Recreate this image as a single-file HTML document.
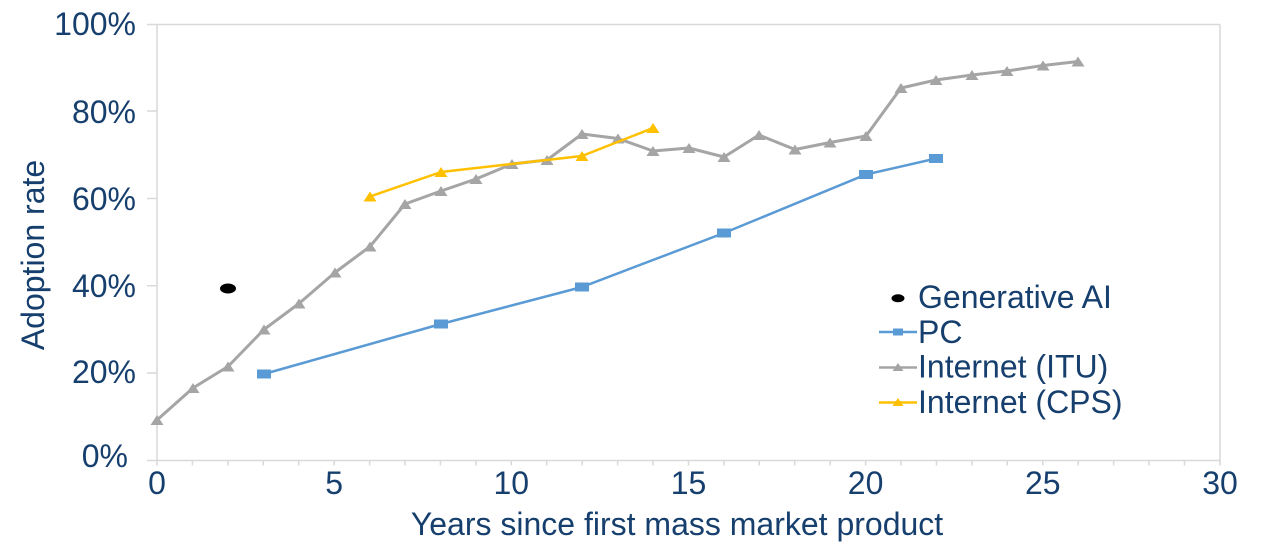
<!DOCTYPE html>
<html>
<head>
<meta charset="utf-8">
<style>
  html,body{margin:0;padding:0;background:#fff;}
  svg{display:block;}
  text{font-family:"Liberation Sans",Arial,sans-serif;fill:#163f6e;}
</style>
</head>
<body>
<svg width="1272" height="556" viewBox="0 0 1272 556" xmlns="http://www.w3.org/2000/svg">
  <!-- plot frame -->
  <g stroke="#d9d9d9" stroke-width="1.5" fill="none">
    <line x1="147" y1="24.5" x2="1220" y2="24.5"/>
    <line x1="157" y1="24.5" x2="157" y2="460.5"/>
    <line x1="1220" y1="24.5" x2="1220" y2="465"/>
    <line x1="147" y1="460.5" x2="1220" y2="460.5"/>
    <!-- y ticks -->
    <line x1="147" y1="111" x2="157" y2="111"/>
    <line x1="147" y1="198.5" x2="157" y2="198.5"/>
    <line x1="147" y1="285.7" x2="157" y2="285.7"/>
    <line x1="147" y1="373" x2="157" y2="373"/>
    <!-- x ticks -->
    <path d="M157 460.5v5M192.4 460.5v5M227.9 460.5v5M263.3 460.5v5M298.7 460.5v5M334.2 460.5v5M369.6 460.5v5M405 460.5v5M440.4 460.5v5M475.9 460.5v5M511.3 460.5v5M546.7 460.5v5M582.2 460.5v5M617.6 460.5v5M653 460.5v5M688.5 460.5v5M723.9 460.5v5M759.3 460.5v5M794.7 460.5v5M830.2 460.5v5M865.6 460.5v5M901 460.5v5M936.5 460.5v5M971.9 460.5v5M1007.3 460.5v5M1042.8 460.5v5M1078.2 460.5v5M1113.6 460.5v5M1149 460.5v5M1184.5 460.5v5M1220 460.5v5"/>
  </g>

  <!-- y tick labels -->
  <g font-size="32" text-anchor="end">
    <text x="136" y="35">100%</text>
    <text x="136" y="123">80%</text>
    <text x="136" y="210">60%</text>
    <text x="136" y="297">40%</text>
    <text x="136" y="383">20%</text>
    <text x="128" y="467">0%</text>
  </g>

  <!-- x tick labels -->
  <g font-size="32" text-anchor="middle">
    <text x="157" y="494">0</text>
    <text x="334.2" y="494">5</text>
    <text x="511.3" y="494">10</text>
    <text x="688.5" y="494">15</text>
    <text x="865.6" y="494">20</text>
    <text x="1042.8" y="494">25</text>
    <text x="1220" y="494">30</text>
  </g>

  <!-- axis titles -->
  <text x="677" y="535" font-size="32" text-anchor="middle">Years since first mass market product</text>
  <text transform="translate(44,255) rotate(-90)" font-size="32" text-anchor="middle">Adoption rate</text>

  <!-- PC series -->
  <polyline fill="none" stroke="#5b9bd5" stroke-width="2.5" points="264,374 441,324 582,287 724,233 866,174.5 936,158.5"/>
  <g fill="#5b9bd5">
    <rect x="257" y="369.5" width="14" height="9"/>
    <rect x="434" y="319.5" width="14" height="9"/>
    <rect x="575" y="282.5" width="14" height="9"/>
    <rect x="717" y="228.5" width="14" height="9"/>
    <rect x="859" y="170" width="14" height="9"/>
    <rect x="929" y="154" width="14" height="9"/>
  </g>

  <!-- Internet ITU series -->
  <polyline fill="none" stroke="#a5a5a5" stroke-width="3" stroke-linejoin="round" points="157,420 193,388 228,366.5 264,329.5 299,303.5 335,272.5 370,246.5 405,204 441,191 476,179 512,164 547,160 582,134 618,138.5 653,151 689,148 724,157 759,135 795,149.5 830,142.5 866,136 901,88 936,80 972,75 1007,71 1043,65.5 1078,61.5"/>
  <g fill="#a5a5a5" id="itu">
    <path d="M157,415 l6.5,10 h-13 z"/>
    <path d="M193,383 l6.5,10 h-13 z"/>
    <path d="M228,361.5 l6.5,10 h-13 z"/>
    <path d="M264,324.5 l6.5,10 h-13 z"/>
    <path d="M299,298.5 l6.5,10 h-13 z"/>
    <path d="M335,267.5 l6.5,10 h-13 z"/>
    <path d="M370,241.5 l6.5,10 h-13 z"/>
    <path d="M405,199 l6.5,10 h-13 z"/>
    <path d="M441,186 l6.5,10 h-13 z"/>
    <path d="M476,174 l6.5,10 h-13 z"/>
    <path d="M512,159 l6.5,10 h-13 z"/>
    <path d="M547,155 l6.5,10 h-13 z"/>
    <path d="M582,129 l6.5,10 h-13 z"/>
    <path d="M618,133.5 l6.5,10 h-13 z"/>
    <path d="M653,146 l6.5,10 h-13 z"/>
    <path d="M689,143 l6.5,10 h-13 z"/>
    <path d="M724,152 l6.5,10 h-13 z"/>
    <path d="M759,130 l6.5,10 h-13 z"/>
    <path d="M795,144.5 l6.5,10 h-13 z"/>
    <path d="M830,137.5 l6.5,10 h-13 z"/>
    <path d="M866,131 l6.5,10 h-13 z"/>
    <path d="M901,83 l6.5,10 h-13 z"/>
    <path d="M936,75 l6.5,10 h-13 z"/>
    <path d="M972,70 l6.5,10 h-13 z"/>
    <path d="M1007,66 l6.5,10 h-13 z"/>
    <path d="M1043,60.5 l6.5,10 h-13 z"/>
    <path d="M1078,56.5 l6.5,10 h-13 z"/>
  </g>

  <!-- Internet CPS series -->
  <polyline fill="none" stroke="#ffc000" stroke-width="2.5" stroke-linejoin="round" points="370,196.5 441,172 582,156 653,128"/>
  <g fill="#ffc000">
    <path d="M370,191.5 l6.5,10 h-13 z"/>
    <path d="M441,167 l6.5,10 h-13 z"/>
    <path d="M582,151 l6.5,10 h-13 z"/>
    <path d="M653,123 l6.5,10 h-13 z"/>
  </g>

  <!-- Generative AI point -->
  <ellipse cx="228" cy="288.5" rx="8" ry="5" fill="#000"/>

  <!-- Legend -->
  <ellipse cx="898" cy="298.3" rx="6.5" ry="4" fill="#000"/>
  <line x1="879" y1="332" x2="917" y2="332" stroke="#5b9bd5" stroke-width="2.5"/>
  <rect x="893" y="328.5" width="10" height="7" fill="#5b9bd5"/>
  <line x1="879" y1="367.5" x2="917" y2="367.5" stroke="#a5a5a5" stroke-width="2.5"/>
  <path d="M898,363 l5.5,8 h-11 z" fill="#a5a5a5"/>
  <line x1="879" y1="402.5" x2="917" y2="402.5" stroke="#ffc000" stroke-width="2.5"/>
  <path d="M898,398 l5.5,8 h-11 z" fill="#ffc000"/>
  <g font-size="32">
    <text x="918" y="308">Generative AI</text>
    <text x="918" y="343">PC</text>
    <text x="918" y="377.5">Internet (ITU)</text>
    <text x="918" y="413">Internet (CPS)</text>
  </g>
</svg>
</body>
</html>
